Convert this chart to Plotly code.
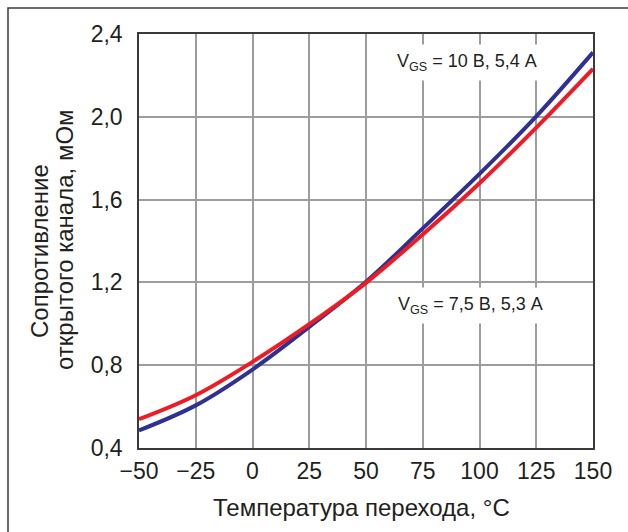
import plotly.graph_objects as go

temp = [-50, -25, 0, 25, 50, 75, 100, 125, 150]
r_vgs10 = [0.485, 0.606, 0.779, 0.985, 1.203, 1.461, 1.724, 2.002, 2.311]
r_vgs75 = [0.539, 0.655, 0.816, 0.998, 1.198, 1.432, 1.679, 1.948, 2.232]

x_ticks = [-50, -25, 0, 25, 50, 75, 100, 125, 150]
x_ticktext = ["\u221250", "\u221225", "0", "25", "50", "75", "100", "125", "150"]
y_ticks = [0.4, 0.8, 1.2, 1.6, 2.0, 2.4]
y_ticktext = ["0,4", "0,8", "1,2", "1,6", "2,0", "2,4"]

label_10 = "V<sub>GS</sub> = 10 В, 5,4 А"
label_75 = "V<sub>GS</sub> = 7,5 В, 5,3 А"
x_title = "Температура перехода, °С"
y_title_1 = "Сопротивление"
y_title_2 = "открытого канала, мОм"

FONT = "Liberation Sans, Arial, sans-serif"
TXT = "#231f20"

fig = go.Figure()
fig.add_trace(go.Scatter(x=temp, y=r_vgs10, mode="lines",
                         line=dict(color="#2e3192", width=4, shape="spline"),
                         showlegend=False, hoverinfo="skip"))
fig.add_trace(go.Scatter(x=temp, y=r_vgs75, mode="lines",
                         line=dict(color="#ed1c24", width=4, shape="spline"),
                         showlegend=False, hoverinfo="skip"))

L, R, T, B = 139, 35, 34, 84
W, H = 628, 532
pw, ph = W - L - R, H - T - B

fig.update_layout(
    width=W, height=H,
    margin=dict(l=L, r=R, t=T, b=B),
    paper_bgcolor="white", plot_bgcolor="white",
    font=dict(family=FONT, color=TXT),
    xaxis=dict(range=[-50, 150], tickvals=x_ticks, ticktext=x_ticktext,
               showgrid=True, gridcolor="#9d9d9d", gridwidth=1.5,
               zeroline=False, showline=True, linecolor="#3a3a3a", linewidth=1.5,
               mirror=True, ticks="", tickfont=dict(size=23, color=TXT),
               ticklabelstandoff=2),
    yaxis=dict(range=[0.4, 2.4], tickvals=y_ticks, ticktext=y_ticktext,
               showgrid=True, gridcolor="#9d9d9d", gridwidth=1.5,
               zeroline=False, showline=True, linecolor="#3a3a3a", linewidth=1.5,
               mirror=True, ticks="", tickfont=dict(size=23, color=TXT),
               ticklabelstandoff=10),
)

fig.add_annotation(x=94.5, y=2.262, xref="x", yref="y", text=label_10,
                   showarrow=False, bgcolor="white", borderpad=6,
                   font=dict(size=18, color=TXT))
fig.add_annotation(x=96, y=1.088, xref="x", yref="y", text=label_75,
                   showarrow=False, bgcolor="white", borderpad=6,
                   font=dict(size=18, color=TXT))

fig.add_annotation(x=(361 - L) / pw, y=(H - B - 507) / ph, xref="paper", yref="paper",
                   text=x_title, showarrow=False, xanchor="center", yanchor="middle",
                   font=dict(size=24, color=TXT))
fig.add_annotation(x=(39 - L) / pw, y=(H - B - 251) / ph, xref="paper", yref="paper",
                   text=y_title_1, showarrow=False, textangle=-90,
                   xanchor="center", yanchor="middle",
                   font=dict(size=24, color=TXT))
fig.add_annotation(x=(64 - L) / pw, y=(H - B - 240) / ph, xref="paper", yref="paper",
                   text=y_title_2, showarrow=False, textangle=-90,
                   xanchor="center", yanchor="middle",
                   font=dict(size=24, color=TXT))

# outer frame (top and left edges visible)
fig.add_shape(type="rect", xref="paper", yref="paper",
              x0=(8 - L) / pw, x1=(W + 20 - L) / pw,
              y0=(H - B - (H + 20)) / ph, y1=(H - B - 8) / ph,
              line=dict(color="#3a3a3a", width=1.5), layer="below")

fig.write_html("out.html")
